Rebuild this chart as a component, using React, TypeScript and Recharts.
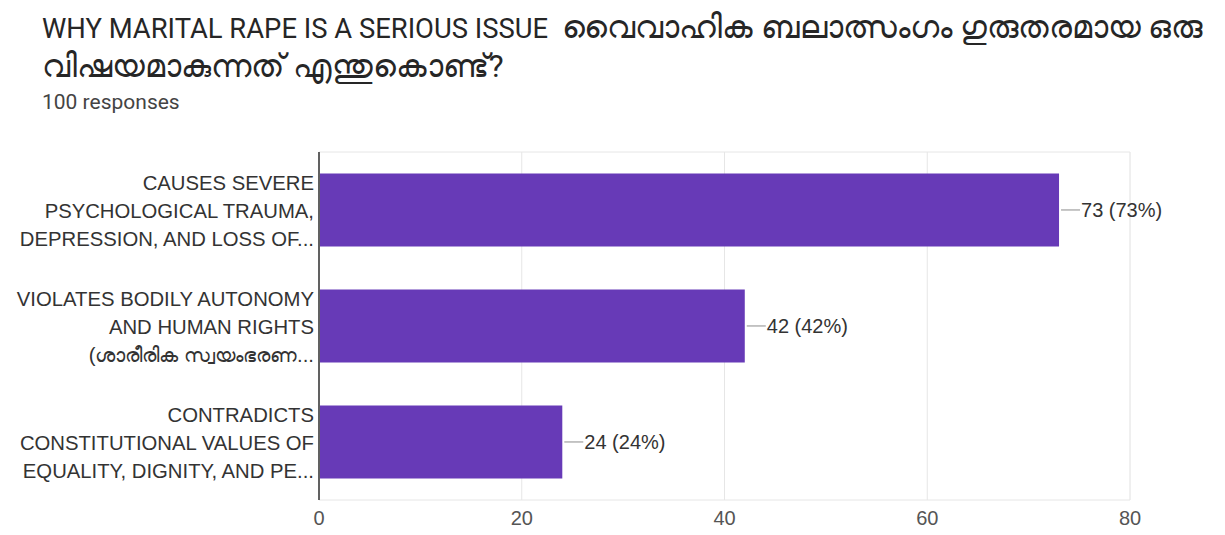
import { BarChart, Bar, XAxis, YAxis, CartesianGrid, LabelList } from 'recharts';

const titleEnglish = 'WHY MARITAL RAPE IS A SERIOUS ISSUE';
const titleMalayalam1 = 'വൈവാഹിക ബലാത്സംഗം ഗുരുതരമായ ഒരു';
const titleMalayalam2 = 'വിഷയമാകുന്നത് എന്തുകൊണ്ട്?';
const responseCount = '100 responses';

// each answer label is shown wrapped on three lines, cut with an ellipsis
const categories = [
  ['CAUSES SEVERE', 'PSYCHOLOGICAL TRAUMA,', 'DEPRESSION, AND LOSS OF...'],
  ['VIOLATES BODILY AUTONOMY', 'AND HUMAN RIGHTS', '(ശാരീരിക സ്വയംഭരണ...'],
  ['CONTRADICTS', 'CONSTITUTIONAL VALUES OF', 'EQUALITY, DIGNITY, AND PE...'],
];
const counts = [73, 42, 24];
const total = 100;
const majorTicks = [0, 20, 40, 60, 80];
const minorTicks = [10, 30, 50, 70];

const data = categories.map((lines, i) => ({
  name: lines.join('|'),
  value: counts[i],
}));

const BAR_COLOR = '#673ab7';
const TEXT = '#333333';
const SANS = "'Liberation Sans', Arial, sans-serif";

const CategoryTick = (props: any) => {
  const { x, y, payload } = props;
  const lines: string[] = String(payload.value).split('|');
  const lineH = 28.3;
  const start = y - ((lines.length - 1) * lineH) / 2;
  return (
    <g>
      {lines.map((l, i) => (
        <text
          key={i}
          x={x + 3}
          y={start + i * lineH}
          dy={8}
          textAnchor="end"
          fill={TEXT}
          fontSize={20.3}
          fontFamily={SANS}
        >
          {l}
        </text>
      ))}
    </g>
  );
};

const ValueLabel = (props: any) => {
  const { x, y, width, height, value } = props;
  const x0 = x + width;
  const cy = y + height / 2;
  const pct = Math.round((value / total) * 100);
  return (
    <g>
      <line x1={x0 + 2} y1={cy} x2={x0 + 21} y2={cy} stroke="#9e9e9e" strokeWidth={1.2} />
      <text x={x0 + 22} y={cy} dy={7} fill={TEXT} fontSize={20} fontFamily={SANS}>
        {`${value} (${pct}%)`}
      </text>
    </g>
  );
};

export default function App() {
  return (
    <div
      style={{
        position: 'absolute',
        left: 0,
        top: 0,
        width: 1225,
        height: 535,
        background: '#ffffff',
        fontFamily: 'Roboto, sans-serif',
        color: '#262626',
      }}
    >
      <div style={{ position: 'absolute', left: 42, top: 11, fontSize: 27.4, lineHeight: '32px', whiteSpace: 'nowrap' }}>
        {titleEnglish}
        {'\u00a0 '}
        <span style={{ fontSize: 32 }}>{titleMalayalam1}</span>
      </div>
      <div style={{ position: 'absolute', left: 42, top: 49, fontSize: 31.5, lineHeight: '36px', whiteSpace: 'nowrap' }}>
        {titleMalayalam2}
      </div>
      <div style={{ position: 'absolute', left: 42, top: 90, fontSize: 21, lineHeight: '24px', color: '#444' }}>
        {responseCount}
      </div>
      <div style={{ position: 'absolute', left: 0, top: 0 }}>
        <BarChart
          width={1225}
          height={535}
          layout="vertical"
          data={data}
          margin={{ top: 152, right: 95, bottom: 0, left: 0 }}
          barCategoryGap="18.5%"
        >
          {/* light minor lines at the odd tens, drawn first */}
          <CartesianGrid xAxisId="minor" stroke="#f2f2f2" horizontal={false} />
          <CartesianGrid
            stroke="#e6e6e6"
            horizontalCoordinatesGenerator={({ offset }: any) => [offset.top, offset.top + offset.height]}
          />
          <XAxis xAxisId="minor" type="number" domain={[0, 80]} ticks={minorTicks} hide />
          <XAxis
            type="number"
            domain={[0, 80]}
            ticks={majorTicks}
            axisLine={false}
            tickLine={false}
            tick={{ fill: '#555', fontSize: 20, fontFamily: SANS }}
            tickMargin={5}
            height={35}
          />
          <YAxis
            type="category"
            dataKey="name"
            width={319}
            axisLine={{ stroke: '#616161', strokeWidth: 2 }}
            tickLine={false}
            tick={<CategoryTick />}
            interval={0}
          />
          <Bar dataKey="value" fill={BAR_COLOR} isAnimationActive={false}>
            <LabelList dataKey="value" content={<ValueLabel />} />
          </Bar>
        </BarChart>
      </div>
    </div>
  );
}
